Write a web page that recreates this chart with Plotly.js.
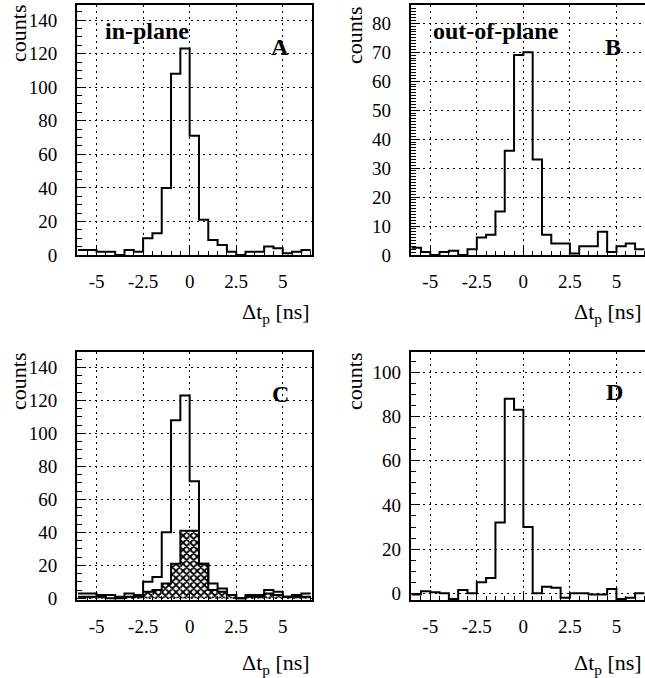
<!DOCTYPE html>
<html>
<head>
<meta charset="utf-8">
<script src="https://cdn.plot.ly/plotly-3.0.1.min.js"></script>
<style>
html, body { margin: 0; padding: 0; overflow: hidden; background: #fff; }
#plot { width: 647px; height: 678px; }
#plot svg text { font-family: "Liberation Serif", "Times New Roman", serif !important; }
</style>
</head>
<body>
<div id="plot"></div>
<script>
// ---- data (bin centres in ns, bin width 0.5 ns) ----
const binCenters = [-5.75,-5.25,-4.75,-4.25,-3.75,-3.25,-2.75,-2.25,-1.75,-1.25,-0.75,-0.25,0.25,0.75,1.25,1.75,2.25,2.75,3.25,3.75,4.25,4.75,5.25,5.75,6.25];
const binWidth = 0.5;
const inPlane      = [3,3,2,2,0,3,2,10,13,40,108,123,71,21,9,6,2,0,2,2,5,4,1,2,3];
const outOfPlane   = [2.5,1,0,1,1.5,0,2,6,7,15,36,69,70,33,7,4,4,0.5,3,3,8,1,3,4,2];
const inPlaneSub   = [1,1,1,0,1,1,1,4,5,9,21,41,41,21,5,4,2,0,1,1,3,2,1,1,1];
const panelD       = [-0.5,1,0.5,0,-2.5,1.5,0,5,7,32,88,83,30,0,3,2.5,-2,0,0,-0.5,-0.5,2,-2.5,-2,0];
const xTickVals = [-5,-2.5,0,2.5,5];
const xTickText = ["-5","-2.5","0","2.5","5"];
const panelLetters = ["A","B","C","D"];
const panelTexts = ["in-plane","out-of-plane"];
const yTitle = "counts";
const xTitle = "\u0394t<sub>p</sub> [ns]";

// ---- helpers ----
const W = 647, H = 678;
const px = x => x / W;
const py = y => 1 - y / H;
const FONT = "Liberation Serif";

function stepTrace(vals, xa, ya) {
  const xs = binCenters.map(c => c - binWidth / 2);
  xs.push(binCenters[binCenters.length - 1] + binWidth / 2);
  const ys = vals.slice();
  ys.push(vals[vals.length - 1]);
  return { type: "scatter", mode: "lines", x: xs, y: ys, xaxis: xa, yaxis: ya,
           line: { shape: "hv", color: "black", width: 2 }, hoverinfo: "skip", showlegend: false };
}

const traces = [
  stepTrace(inPlane, "x", "y"),
  stepTrace(outOfPlane, "x2", "y2"),
  { type: "bar", x: binCenters, y: inPlaneSub, width: binWidth, xaxis: "x3", yaxis: "y3",
    marker: { color: "white", line: { width: 0 },
              pattern: { shape: "x", fgcolor: "black", bgcolor: "white", size: 5, solidity: 0.6 } },
    showlegend: false, hoverinfo: "skip" },
  stepTrace(inPlaneSub, "x3", "y3"),
  stepTrace(inPlane, "x3", "y3"),
  stepTrace(panelD, "x4", "y4")
];

const colL = [77, 312], colR = [410.7, 645.7];
const rowT = [5, 255], rowB = [351.7, 600];

function xAxis(col, anchor) {
  return {
    domain: [px(col[0]), px(col[1])], anchor: anchor,
    range: [-6.05, 6.57],
    tickmode: "array", tickvals: xTickVals, ticktext: xTickText,
    ticks: "inside", ticklen: 9, tickwidth: 1, tickcolor: "black",
    minor: { ticks: "inside", ticklen: 4, tickwidth: 1, tickcolor: "black", tickmode: "linear", tick0: 0, dtick: 0.5, showgrid: false },
    showline: true, linecolor: "black", linewidth: 2, mirror: true,
    showgrid: true, gridcolor: "black", gridwidth: 1, griddash: "2px,4px",
    zeroline: false, ticklabelstandoff: 8,
    tickfont: { family: FONT, size: 19, color: "black" }
  };
}
function yAxis(row, anchor, range, dtick, minorDtick, standoff) {
  return {
    domain: [py(row[1]), py(row[0])], anchor: anchor,
    range: range, tickmode: "linear", tick0: 0, dtick: dtick,
    ticks: "inside", ticklen: 9, tickwidth: 1, tickcolor: "black",
    minor: { ticks: "inside", ticklen: 5, tickwidth: 1, tickcolor: "black", tickmode: "linear", tick0: 0, dtick: minorDtick, showgrid: false },
    showline: true, linecolor: "black", linewidth: 2, mirror: true,
    showgrid: true, gridcolor: "black", gridwidth: 1, griddash: "2px,4px",
    zeroline: false, ticklabelstandoff: standoff,
    tickfont: { family: FONT, size: 19, color: "black" }
  };
}

function ann(text, x, y, opts) {
  return Object.assign({ text: text, x: px(x), y: py(y), xref: "paper", yref: "paper",
    showarrow: false, xanchor: "center", yanchor: "middle",
    font: { family: FONT, size: 22, color: "black" } }, opts || {});
}
const boldFont = { family: FONT, size: 24, color: "black", weight: "bold" };

const annotations = [
  ann(yTitle, 18, 34, { textangle: -90 }),
  ann(yTitle, 355, 36, { textangle: -90 }),
  ann(yTitle, 19, 382, { textangle: -90 }),
  ann(yTitle, 355, 382, { textangle: -90 }),
  ann(xTitle, 312, 313, { xanchor: "right" }),
  ann(xTitle, 644, 313, { xanchor: "right" }),
  ann(xTitle, 312, 664, { xanchor: "right" }),
  ann(xTitle, 644, 664, { xanchor: "right" }),
  ann("<b>" + panelTexts[0] + "</b>", 103, 31, { xanchor: "left", font: boldFont }),
  ann("<b>" + panelTexts[1] + "</b>", 431, 31, { xanchor: "left", font: boldFont }),
  ann("<b>" + panelLetters[0] + "</b>", 280, 47, { font: boldFont }),
  ann("<b>" + panelLetters[1] + "</b>", 613, 47, { font: boldFont }),
  ann("<b>" + panelLetters[2] + "</b>", 280, 394, { font: boldFont }),
  ann("<b>" + panelLetters[3] + "</b>", 614, 392, { font: boldFont })
];

const layout = {
  width: W, height: H,
  margin: { l: 0, r: 0, t: 0, b: 0, pad: 0 },
  paper_bgcolor: "white", plot_bgcolor: "white",
  font: { family: FONT, color: "black" },
  showlegend: false,
  xaxis: xAxis(colL, "y"),
  yaxis: yAxis(rowT, "x", [0, 149], 20, 5, 14),
  xaxis2: xAxis(colR, "y2"),
  yaxis2: yAxis(rowT, "x2", [0, 86.3], 10, 1, 14),
  xaxis3: xAxis(colL, "y3"),
  yaxis3: yAxis(rowB, "x3", [-1, 149.5], 20, 5, 14),
  xaxis4: xAxis(colR, "y4"),
  yaxis4: yAxis(rowB, "x4", [-3, 109.3], 20, 5, 4),
  annotations: annotations
};

Plotly.newPlot("plot", traces, layout, { staticPlot: true, displayModeBar: false });
</script>
</body>
</html>
